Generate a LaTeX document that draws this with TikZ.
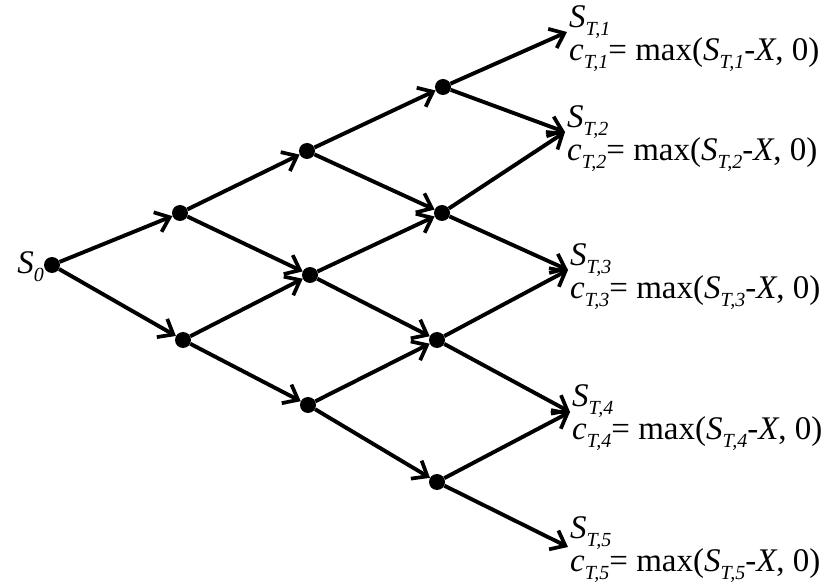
\documentclass[tikz,border=0pt]{standalone}
\usepackage{fontspec}
\setmainfont{Liberation Serif}
\usetikzlibrary{arrows.meta}
\newcommand\sbx[1]{\raisebox{-0.24em}{\fontsize{20}{20}\selectfont\itshape #1}}
\newcommand\paylab[1]{\textit{S}\sbx{T,#1}\\[-2pt]\textit{c}\sbx{T,#1}= max(\textit{S}\sbx{T,#1}-\textit{X}, 0)}
\begin{document}
\begin{tikzpicture}[x=1pt,y=-1pt,
  dot/.style={circle,fill=black,inner sep=0pt,minimum size=16pt},
  edge/.style={line width=3.9pt,-{Straight Barb[length=13pt,width=21pt,line width=3.7pt]}},
  lab/.style={anchor=west,align=left,inner sep=0pt,font=\fontsize{33}{31}\selectfont}]
\useasboundingbox (0,0) rectangle (828,585);
% nodes
\node[dot] (S0) at (52,265) {};
\node[dot] (A1) at (180,213) {};
\node[dot] (A2) at (183,340) {};
\node[dot] (B1) at (307,151) {};
\node[dot] (B2) at (310,275) {};
\node[dot] (B3) at (308,405) {};
\node[dot] (C1) at (443,87) {};
\node[dot] (C2) at (442,213) {};
\node[dot] (C3) at (437,340) {};
\node[dot] (C4) at (437,482) {};
\coordinate (T1) at (567,32);
\coordinate (T2) at (565,132);
\coordinate (T3) at (568,270);
\coordinate (T4) at (570,412);
\coordinate (T5) at (568,547);
% edges
\draw[edge] (S0) -- (A1);
\draw[edge] (S0) -- (A2);
\draw[edge] (A1) -- (B1);
\draw[edge] (A1) -- (B2);
\draw[edge] (A2) -- (B2);
\draw[edge] (A2) -- (B3);
\draw[edge] (B1) -- (C1);
\draw[edge] (B1) -- (C2);
\draw[edge] (B2) -- (C2);
\draw[edge] (B2) -- (C3);
\draw[edge] (B3) -- (C3);
\draw[edge] (B3) -- (C4);
\draw[edge] (C1) -- (T1);
\draw[edge] (C1) -- (T2);
\draw[edge] (C2) -- (T2);
\draw[edge] (C2) -- (T3);
\draw[edge] (C3) -- (T3);
\draw[edge] (C3) -- (T4);
\draw[edge] (C4) -- (T4);
\draw[edge] (C4) -- (T5);
% labels
\node[anchor=east,inner sep=0pt,font=\fontsize{33}{31}\selectfont] (LS0) at (44,267) {\textit{S}\sbx{0}};
\node[lab] (L1) at (569,39) {\paylab{1}};
\node[lab] (L2) at (567,139) {\paylab{2}};
\node[lab] (L3) at (570,277) {\paylab{3}};
\node[lab] (L4) at (572,418) {\paylab{4}};
\node[lab] (L5) at (570,550) {\paylab{5}};
\end{tikzpicture}
\end{document}
